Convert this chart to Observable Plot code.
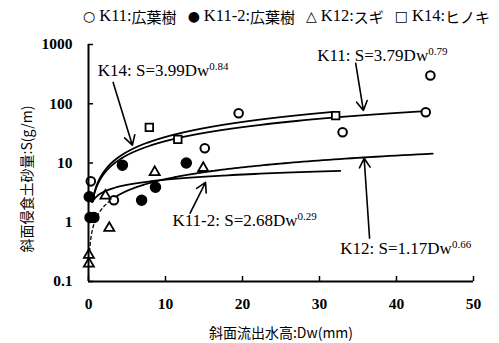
<!DOCTYPE html>
<html><head><meta charset="utf-8">
<script src="https://cdn.jsdelivr.net/npm/d3@7"></script>
<script src="https://cdn.jsdelivr.net/npm/@observablehq/plot@0.6"></script>
<style>
body{margin:0;background:#fff;width:499px;height:343px;overflow:hidden;}
#legend{height:32px;display:flex;align-items:center;padding-left:83px;font-family:"Liberation Serif","Noto Sans CJK JP",serif;font-size:16.5px;color:#000;white-space:nowrap;}
#legend .item{margin-right:11px;display:flex;align-items:center;}
#legend .sym{font-family:"DejaVu Sans";font-size:14px;font-weight:bold;margin-right:4px;}
#legend .jp{font-family:"Noto Sans CJK JP";font-size:15px;}
</style></head><body>
<div id="legend"></div>
<div id="chart"></div>
<script>
// Observed points
const k11x = [44.4, 43.8, 33.0, 19.5, 15.1, 0.3, 3.3];
const k11y = [300, 72, 33, 69, 17.7, 4.9, 2.35];
const k112x = [4.4, 8.7, 6.9, 12.7, 0.1, 0.2, 0.7];
const k112y = [9.2, 3.9, 2.35, 10, 2.7, 1.2, 1.2];
const k12x = [8.6, 14.9, 2.7, 2.2, 0.05, 0.05];
const k12y = [7.0, 8.2, 0.8, 2.8, 0.28, 0.2];
const k14x = [7.9, 11.6, 32.1];
const k14y = [40, 25, 63];

// Fitted power curves S = a * Dw^b
const fitNames = ["K11", "K11-2", "K12", "K14"];
const fitA = [3.79, 2.68, 1.17, 3.99];
const fitB = [0.79, 0.29, 0.66, 0.84];
const fitMin = [0.5, 0.5, 3, 0.5];
const fitMax = [43.8, 32.7, 44.7, 31.8];
const k12DashMin = 0.1;

// Annotations
const annText = ["K14: S=3.99Dw^0.84", "K11: S=3.79Dw^0.79", "K11-2: S=2.68Dw^0.29", "K12: S=1.17Dw^0.66"];
const annX = [1.2, 29.7, 10.9, 32.7];
const annY = [366, 655, 1.08, 0.364];
const arrX1 = [3.2, 34.7, 13.2, 36.5];
const arrY1 = [229, 480, 1.42, 0.54];
const arrX2 = [5.7, 35.7, 15.2, 35.8];
const arrY2 = [20, 77, 4.7, 12];

const xTicks = [0, 10, 20, 30, 40, 50];
const yTicks = [0.1, 1, 10, 100, 1000];
const yTickLabels = ["0.1", "1", "10", "100", "1000"];

const legendSym = ["○", "●", "△", "□"];
const legendLab = ["K11", "K11-2", "K12", "K14"];
const legendJp = ["広葉樹", "広葉樹", "スギ", "ヒノキ"];

const leg = document.getElementById("legend");
legendSym.forEach((s, i) => {
  const it = document.createElement("span");
  it.className = "item";
  it.innerHTML = `<span class="sym">${s}</span><span>${legendLab[i]}:</span><span class="jp">${legendJp[i]}</span>`;
  leg.appendChild(it);
});

function pts(xs, ys) { return xs.map((x, i) => ({x, y: ys[i]})); }
function curve(i, lo, hi) {
  const out = [];
  const n = 120;
  for (let k = 0; k <= n; k++) {
    const x = lo * Math.pow(hi / lo, k / n);
    out.push({x, y: fitA[i] * Math.pow(x, fitB[i]), name: fitNames[i]});
  }
  return out;
}
const curves = fitNames.flatMap((n, i) => curve(i, fitMin[i], fitMax[i]));
const k12dash = curve(2, k12DashMin, fitMin[2]);
const ann = annText.map((t, i) => ({t, x: annX[i], y: annY[i]}));
const arrows = annText.map((t, i) => ({x1: arrX1[i], y1: arrY1[i], x2: arrX2[i], y2: arrY2[i]}));

const plot = Plot.plot({
  width: 499, height: 311,
  marginLeft: 88, marginRight: 26, marginTop: 12, marginBottom: 62,
  x: {domain: [0, 50]},
  y: {type: "log", domain: [0.1, 1000]},
  style: {fontFamily: "'Liberation Serif', serif", fontSize: "15.5px", color: "#000", background: "#fff"},
  marks: [
    Plot.line(curves, {x: "x", y: "y", z: "name", stroke: "#000", strokeWidth: 1.8}),
    Plot.line(k12dash, {x: "x", y: "y", stroke: "#000", strokeWidth: 1.3, strokeDasharray: "3,3"}),
    Plot.dot(pts(k11x, k11y), {x: "x", y: "y", r: 4.3, stroke: "#000", strokeWidth: 2, fill: "#fff"}),
    Plot.dot(pts(k112x, k112y), {x: "x", y: "y", r: 5, fill: "#000", stroke: "#000"}),
    Plot.dot(pts(k12x, k12y), {x: "x", y: "y", symbol: "triangle2", r: 4.8, stroke: "#000", strokeWidth: 1.8, fill: "#fff"}),
    Plot.dot(pts(k14x, k14y), {x: "x", y: "y", symbol: "square2", r: 4.8, stroke: "#000", strokeWidth: 1.8, fill: "#fff"}),
    Plot.arrow(arrows, {x1: "x1", y1: "y1", x2: "x2", y2: "y2", stroke: "#000", strokeWidth: 1.6, headLength: 10, bend: 0}),
    Plot.text(ann, {x: "x", y: "y", text: "t", textAnchor: "start", fontSize: 17, fill: "#000"}),
    Plot.ruleX([0], {stroke: "#000", strokeWidth: 2}),
    Plot.ruleY([0.1], {stroke: "#000", strokeWidth: 2}),
    Plot.axisX({ticks: xTicks, tickSize: -5, tickPadding: 21, strokeWidth: 1.5, fontWeight: "bold",
      label: "斜面流出水高:Dw(mm)", labelAnchor: "center", labelArrow: "none", labelOffset: 56}),
    Plot.axisY({ticks: yTicks, tickFormat: d => yTickLabels[yTicks.indexOf(d)], tickSize: -5, tickPadding: 21, strokeWidth: 1.5, fontWeight: "bold",
      label: "斜面侵食土砂量:S(g/m)", labelAnchor: "center", labelArrow: "none", labelOffset: 66})
  ]
});
document.getElementById("chart").appendChild(plot);

// style axis labels
plot.querySelectorAll('g[aria-label="x-axis label"] text, g[aria-label="y-axis label"] text').forEach(el => {
  el.style.fontFamily = "'Noto Sans CJK JP'";
  el.style.fontWeight = "normal";
  el.style.fontSize = "14px";
});
plot.querySelectorAll('g[aria-label="y-axis label"] text').forEach(el => {
  el.setAttribute("dx", "-16");
});
// superscripts in annotations
plot.querySelectorAll("text").forEach(el => {
  const s = el.textContent;
  if (s.includes("^") && el.children.length === 0) {
    const [base, exp] = s.split("^");
    el.textContent = "";
    const ns = "http://www.w3.org/2000/svg";
    const t1 = document.createElementNS(ns, "tspan");
    t1.textContent = base;
    const t2 = document.createElementNS(ns, "tspan");
    t2.textContent = exp;
    t2.setAttribute("dy", "-0.5em");
    t2.setAttribute("font-size", "11");
    el.appendChild(t1); el.appendChild(t2);
  }
});
</script>
</body></html>
